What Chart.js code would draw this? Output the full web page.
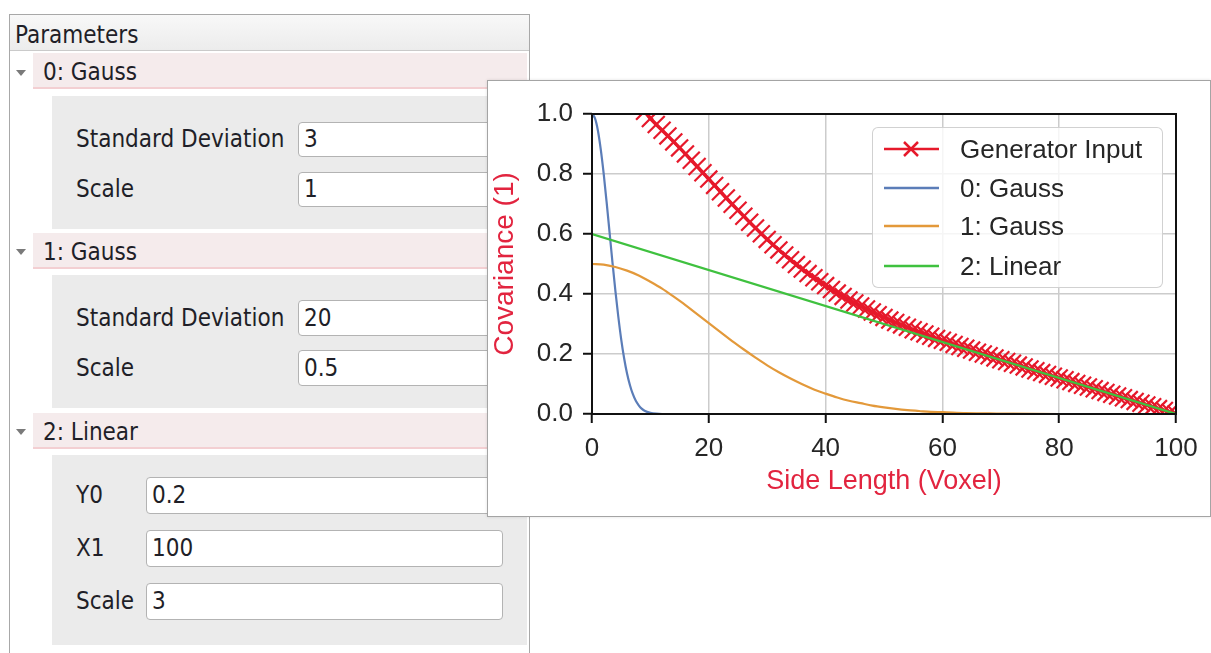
<!DOCTYPE html>
<html><head><meta charset="utf-8">
<script src="https://cdn.jsdelivr.net/npm/chart.js@4.4.0/dist/chart.umd.min.js"></script>
<style>
html,body{margin:0;padding:0;background:#fff;width:1211px;height:653px;overflow:hidden;}
body{position:relative;}
.ui{position:absolute;font-family:"DejaVu Sans Condensed","DejaVu Sans",sans-serif;font-stretch:condensed;font-size:24px;color:#1f1f28;white-space:nowrap;}
.panel{position:absolute;left:9px;top:14px;width:521px;height:700px;border:1px solid #a8a8a8;box-sizing:border-box;background:#fff;}
.head{position:absolute;left:10px;top:15px;width:519px;height:36px;background:linear-gradient(#f8f8f8,#ececec);border-bottom:1px solid #cacaca;box-sizing:border-box;}
.band{position:absolute;left:33px;width:494px;height:36px;background:#f5ebec;border-bottom:2px solid #f3cfd2;box-sizing:border-box;}
.tri{position:absolute;left:16px;width:0;height:0;border-left:5px solid transparent;border-right:5px solid transparent;border-top:6px solid #7a7a7a;}
.gray{position:absolute;left:52px;width:475px;background:#ebebeb;}
.inp{position:absolute;background:#fff;border:1px solid #b3b3b3;border-radius:4px;box-sizing:border-box;padding-left:5px;}
.win{position:absolute;left:487px;top:80px;width:724px;height:437px;border:1px solid #a4a4a4;box-sizing:border-box;background:#fff;box-shadow:0 0 3px rgba(0,0,0,0.12);}
#c{position:absolute;left:0;top:0;}
.legend{position:absolute;left:384px;top:46px;width:291px;height:161px;box-sizing:border-box;border:1px solid rgba(204,204,204,0.9);border-radius:6px;background:rgba(255,255,255,0.8);}
.legend svg{position:absolute;left:0;top:0;}
.lt{position:absolute;left:87px;font-family:"Liberation Sans",Arial,sans-serif;font-size:26px;color:#262626;line-height:30px;}
</style>
</head><body>
<div class="panel"></div>
<div class="head"></div>
<div class="ui" style="left:15px;top:17px;line-height:36px;">Parameters</div>

<div class="tri" style="top:70px;"></div>
<div class="band" style="top:53px;"></div>
<div class="ui" style="left:43px;top:54px;line-height:36px;">0: Gauss</div>
<div class="gray" style="top:96px;height:133px;"></div>
<div class="ui" style="left:76px;top:122px;line-height:35px;">Standard Deviation</div>
<div class="inp ui" style="left:298px;top:122px;width:205px;height:35px;line-height:33px;">3</div>
<div class="ui" style="left:76px;top:172px;line-height:35px;">Scale</div>
<div class="inp ui" style="left:298px;top:172px;width:205px;height:35px;line-height:33px;">1</div>

<div class="tri" style="top:249px;"></div>
<div class="band" style="top:233px;"></div>
<div class="ui" style="left:43px;top:234px;line-height:36px;">1: Gauss</div>
<div class="gray" style="top:275px;height:133px;"></div>
<div class="ui" style="left:76px;top:300px;line-height:36px;">Standard Deviation</div>
<div class="inp ui" style="left:298px;top:300px;width:205px;height:36px;line-height:34px;">20</div>
<div class="ui" style="left:76px;top:350px;line-height:36px;">Scale</div>
<div class="inp ui" style="left:298px;top:350px;width:205px;height:36px;line-height:34px;">0.5</div>

<div class="tri" style="top:429px;"></div>
<div class="band" style="top:413px;"></div>
<div class="ui" style="left:43px;top:414px;line-height:36px;">2: Linear</div>
<div class="gray" style="top:455px;height:190px;"></div>
<div class="ui" style="left:76px;top:477px;line-height:37px;">Y0</div>
<div class="inp ui" style="left:146px;top:477px;width:357px;height:37px;line-height:35px;">0.2</div>
<div class="ui" style="left:76px;top:530px;line-height:37px;">X1</div>
<div class="inp ui" style="left:146px;top:530px;width:357px;height:37px;line-height:35px;">100</div>
<div class="ui" style="left:76px;top:583px;line-height:37px;">Scale</div>
<div class="inp ui" style="left:146px;top:583px;width:357px;height:37px;line-height:35px;">3</div>

<div class="win">
  <canvas id="c" width="722" height="435" style="width:722px;height:435px;"></canvas>
  <div class="legend">
    <svg width="80" height="159">
      <line x1="11" y1="21" x2="66" y2="21" stroke="#e6192b" stroke-width="2.5"/>
      <line x1="31" y1="14" x2="45" y2="28" stroke="#e6192b" stroke-width="2.5"/>
      <line x1="31" y1="28" x2="45" y2="14" stroke="#e6192b" stroke-width="2.5"/>
      <line x1="11" y1="60" x2="66" y2="60" stroke="#5b7db8" stroke-width="2.5"/>
      <line x1="11" y1="98" x2="66" y2="98" stroke="#e3993a" stroke-width="2.5"/>
      <line x1="11" y1="138" x2="66" y2="138" stroke="#3fc13f" stroke-width="2.5"/>
    </svg>
    <div class="lt" style="top:6px;">Generator Input</div>
    <div class="lt" style="top:45px;">0: Gauss</div>
    <div class="lt" style="top:83px;">1: Gauss</div>
    <div class="lt" style="top:123px;">2: Linear</div>
  </div>
</div>

<script>
// ---- data ----
const genX = [0,1,2,3,4,5,6,7,8,9,10,11,12,13,14,15,16,17,18,19,20,21,22,23,24,25,26,27,28,29,30,31,32,33,34,35,36,37,38,39,40,41,42,43,44,45,46,47,48,49,50,51,52,53,54,55,56,57,58,59,60,61,62,63,64,65,66,67,68,69,70,71,72,73,74,75,76,77,78,79,80,81,82,83,84,85,86,87,88,89,90,91,92,93,94,95,96,97,98,99,100];
const genY = [2.100,2.039,1.887,1.683,1.477,1.304,1.177,1.094,1.043,1.009,
  0.985,0.965,0.946,0.927,0.907,0.887,0.867,0.846,0.825,0.804,
  0.783,0.762,0.741,0.720,0.699,0.679,0.659,0.639,0.620,0.601,
  0.582,0.564,0.547,0.530,0.514,0.498,0.483,0.468,0.454,0.441,
  0.428,0.415,0.403,0.392,0.380,0.370,0.360,0.350,0.340,0.331,
  0.322,0.313,0.305,0.297,0.289,0.281,0.274,0.267,0.259,0.252,
  0.246,0.239,0.232,0.225,0.219,0.213,0.206,0.200,0.194,0.187,
  0.181,0.175,0.169,0.163,0.157,0.150,0.144,0.138,0.132,0.126,
  0.120,0.114,0.108,0.102,0.096,0.090,0.084,0.078,0.072,0.066,
  0.060,0.054,0.048,0.042,0.036,0.030,0.024,0.018,0.012,0.006,0.000];
const gauss0X = [0,0.5,1,1.5,2,2.5,3,3.5,4,4.5,5,5.5,6,6.5,7,7.5,8,8.5,9,10,11,12,100];
const gauss0Y = [1.000,0.986,0.946,0.882,0.801,0.707,0.607,0.506,0.411,0.325,0.249,0.186,0.135,0.096,0.066,0.044,0.029,0.018,0.011,0.004,0.001,0.000,0.000];
const gauss1X = [0,2,4,6,8,10,12,14,16,18,20,22,24,26,28,30,32,34,36,38,40,42,44,46,48,50,52,54,56,58,60,64,68,72,80,100];
const gauss1Y = [0.500,0.498,0.490,0.478,0.462,0.441,0.418,0.391,0.363,0.333,0.303,0.273,0.243,0.215,0.188,0.162,0.139,0.118,0.099,0.082,0.068,0.055,0.044,0.036,0.028,0.022,0.017,0.013,0.010,0.007,0.006,0.003,0.002,0.001,0.000,0.000];
const linearX = [0,100];
const linearY = [0.6,0.0];
const xTicks = [0,20,40,60,80,100];
const yTicks = [0.0,0.2,0.4,0.6,0.8,1.0];
const seriesNames = ['Generator Input','0: Gauss','1: Gauss','2: Linear'];
const xTitle = 'Side Length (Voxel)';
const yTitle = 'Covariance (1)';

const pts = (xs, ys) => xs.map((x, i) => ({x: x, y: ys[i]}));

const frame = {
  id: 'frame',
  afterDatasetsDraw(chart) {
    const {ctx, chartArea: a} = chart;
    ctx.save();
    ctx.strokeStyle = '#111';
    ctx.lineWidth = 2;
    ctx.strokeRect(a.left, a.top, a.right - a.left, a.bottom - a.top);
    ctx.restore();
  }
};

const RED = '#e6192b';
const tickFont = {family: '"Liberation Sans", Arial, sans-serif', size: 26};
const xTitleFont = {family: '"Liberation Sans", Arial, sans-serif', size: 27};
const yTitleFont = {family: '"Liberation Sans", Arial, sans-serif', size: 28};

new Chart(document.getElementById('c'), {
  type: 'line',
  data: {
    datasets: [
      {label: seriesNames[0], data: pts(genX, genY), borderColor: RED, borderWidth: 3.5,
       pointStyle: 'crossRot', pointRadius: 12, pointBorderWidth: 2.2, pointBorderColor: RED,
       pointBackgroundColor: RED, clip: 0, order: 4},
      {label: seriesNames[1], data: pts(gauss0X, gauss0Y), borderColor: '#5b7db8', borderWidth: 2.2,
       pointRadius: 0, cubicInterpolationMode: 'monotone', clip: 0, order: 3},
      {label: seriesNames[2], data: pts(gauss1X, gauss1Y), borderColor: '#e3993a', borderWidth: 2.2,
       pointRadius: 0, cubicInterpolationMode: 'monotone', clip: 0, order: 2},
      {label: seriesNames[3], data: pts(linearX, linearY), borderColor: '#3fc13f', borderWidth: 2.2,
       pointRadius: 0, clip: 0, order: 1}
    ]
  },
  options: {
    responsive: false,
    animation: false,
    events: [],
    layout: {padding: {top: 33, right: 34, left: 0, bottom: 0}},
    plugins: {legend: {display: false}, tooltip: {enabled: false}},
    scales: {
      x: {
        type: 'linear', min: 0, max: 100,
        afterFit: s => { s.height = 102; },
        afterBuildTicks: s => { s.ticks = xTicks.map(v => ({value: v})); },
        ticks: {font: tickFont, color: '#262626', padding: 10, maxRotation: 0},
        grid: {color: '#cccccc', lineWidth: 1.5, tickLength: 9, tickColor: '#111', tickWidth: 2},
        border: {display: false},
        title: {display: true, text: xTitle, color: '#e2243f', font: xTitleFont, padding: {top: 0, bottom: 18}}
      },
      y: {
        type: 'linear', min: 0, max: 1,
        afterFit: s => { s.width = 104; },
        afterBuildTicks: s => { s.ticks = yTicks.map(v => ({value: v})); },
        ticks: {font: tickFont, color: '#262626', padding: 10, callback: v => Number(v).toFixed(1)},
        grid: {color: '#cccccc', lineWidth: 1.5, tickLength: 9, tickColor: '#111', tickWidth: 2},
        border: {display: false},
        title: {display: true, text: yTitle, color: '#e2243f', font: yTitleFont, padding: {top: 0, bottom: 0}}
      }
    }
  },
  plugins: [frame]
});
</script>
</body></html>
